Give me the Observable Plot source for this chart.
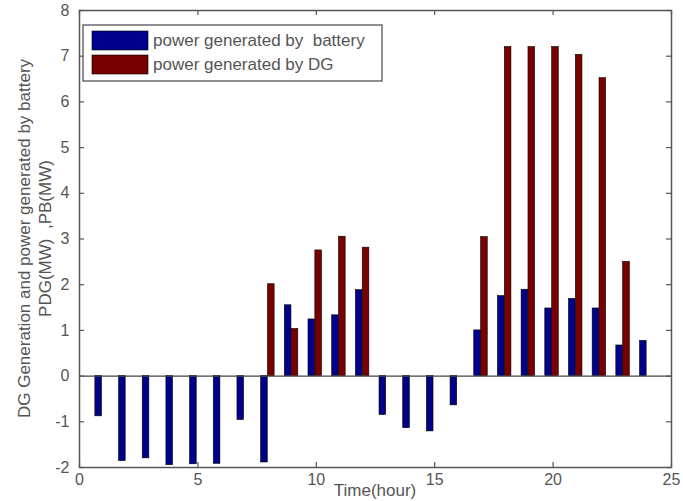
<!DOCTYPE html>
<html>
<head>
<meta charset="utf-8">
<script src="https://cdn.jsdelivr.net/npm/d3@7"></script>
<script src="https://cdn.jsdelivr.net/npm/@observablehq/plot@0.6"></script>
<style>
  html, body { margin: 0; padding: 0; background: #fff; }
  #chart svg { display: block; }
</style>
</head>
<body>
<div id="chart"></div>
<script>
// Hourly dispatch: battery and diesel generator (DG) output, MW
const hours = [1, 2, 3, 4, 5, 6, 7, 8, 9, 10, 11, 12, 13, 14, 15, 16, 17, 18, 19, 20, 21, 22, 23, 24];
const batteryPower = [-0.88, -1.86, -1.80, -1.95, -1.93, -1.92, -0.96, -1.89, 1.55, 1.24, 1.33, 1.88,
                      -0.85, -1.14, -1.21, -0.64, 1.00, 1.75, 1.89, 1.48, 1.69, 1.48, 0.67, 0.77];
const dgPower = [0, 0, 0, 0, 0, 0, 0, 2.01, 1.03, 2.75, 3.05, 2.81,
                 0, 0, 0, 0, 3.04, 7.20, 7.20, 7.20, 7.03, 6.52, 2.50, 0];
const seriesNames = ["power generated by  battery", "power generated by DG"];
const xTicks = [0, 5, 10, 15, 20, 25];
const yTicks = [-2, -1, 0, 1, 2, 3, 4, 5, 6, 7, 8];

const colors = ["#00008a", "#780000"];
const ink = "#555";
const font = "'Liberation Sans', Arial, sans-serif";
const titleSize = 17;
const tickSize = 16;

const W = 683, H = 501;
const margin = {top: 10, right: 12, bottom: 34, left: 79};
const xDomain = [0, 25], yDomain = [-2, 8];

// grouped bar layout (in hour units)
const barW = 0.28;
const offsets = [-0.19, 0.10];

const battery = hours.map((h, i) => ({hour: h, value: batteryPower[i]}));
const dg = hours.map((h, i) => ({hour: h, value: dgPower[i]})).filter(d => d.value !== 0);

// inward tick lengths expressed in data units
const pxX = (W - margin.left - margin.right) / (xDomain[1] - xDomain[0]);
const pxY = (H - margin.top - margin.bottom) / (yDomain[1] - yDomain[0]);
const tickLen = 5;
const tx = tickLen / pxX, ty = tickLen / pxY;

const bars = (data, k) => Plot.rectY(data, {
  x1: d => d.hour + offsets[k] - barW / 2,
  x2: d => d.hour + offsets[k] + barW / 2,
  y: "value",
  fill: colors[k],
  stroke: "#000",
  strokeWidth: 0.6
});

const fmt = d => String(d); // plain hyphen for negatives

const chart = Plot.plot({
  width: W,
  height: H,
  marginTop: margin.top,
  marginRight: margin.right,
  marginBottom: margin.bottom,
  marginLeft: margin.left,
  style: {fontFamily: font, fontSize: `${tickSize}px`, color: ink, background: "#fff"},
  x: {domain: xDomain, label: null},
  y: {domain: yDomain, label: null},
  marks: [
    bars(battery, 0),
    bars(dg, 1),
    Plot.ruleY([0], {stroke: "#444", strokeWidth: 1.4}),
    // inward ticks on all four sides
    Plot.ruleX(xTicks, {y1: yDomain[0], y2: yDomain[0] + ty, stroke: ink, strokeWidth: 1.2}),
    Plot.ruleX(xTicks, {y1: yDomain[1], y2: yDomain[1] - ty, stroke: ink, strokeWidth: 1.2}),
    Plot.ruleY(yTicks, {x1: xDomain[0], x2: xDomain[0] + tx, stroke: ink, strokeWidth: 1.2}),
    Plot.ruleY(yTicks, {x1: xDomain[1], x2: xDomain[1] - tx, stroke: ink, strokeWidth: 1.2}),
    Plot.axisX(xTicks, {tickSize: 0, tickPadding: 6, fill: ink, fontSize: tickSize, tickFormat: fmt, label: null}),
    Plot.axisY(yTicks, {tickSize: 0, tickPadding: 10, fill: ink, fontSize: tickSize, tickFormat: fmt, label: null}),
    Plot.frame({stroke: ink, strokeWidth: 1.5})
  ]
});

const svg = d3.select(chart);

// axis titles
const cy = margin.top + (H - margin.top - margin.bottom) / 2;
const yTitle = svg.append("g")
  .attr("font-family", font).attr("font-size", titleSize).attr("fill", ink)
  .attr("text-anchor", "middle");
yTitle.append("text")
  .attr("transform", `translate(30,${cy}) rotate(-90)`)
  .text("DG Generation and power generated by battery");
yTitle.append("text")
  .attr("transform", `translate(51,${cy}) rotate(-90)`)
  .style("white-space", "pre")
  .text("PDG(MW)  ,PB(MW)");

svg.append("text")
  .attr("x", margin.left + (W - margin.left - margin.right) / 2)
  .attr("y", H - 5)
  .attr("text-anchor", "middle")
  .attr("font-family", font).attr("font-size", titleSize).attr("fill", ink)
  .text("Time(hour)");

// legend box in the upper left of the axes
const lg = svg.append("g")
  .attr("font-family", font).attr("font-size", titleSize).attr("fill", ink)
  .attr("text-anchor", "start");
lg.append("rect")
  .attr("x", 83).attr("y", 25).attr("width", 299).attr("height", 56)
  .attr("fill", "#fff").attr("stroke", ink).attr("stroke-width", 1.3);
seriesNames.forEach((name, k) => {
  const y0 = 31 + k * 24;
  lg.append("rect")
    .attr("x", 92).attr("y", y0).attr("width", 56).attr("height", 19)
    .attr("fill", colors[k]).attr("stroke", "#000").attr("stroke-width", 0.6);
  lg.append("text")
    .attr("x", 153).attr("y", y0 + 15)
    .style("white-space", "pre")
    .text(name);
});

document.getElementById("chart").appendChild(chart);
</script>
</body>
</html>
